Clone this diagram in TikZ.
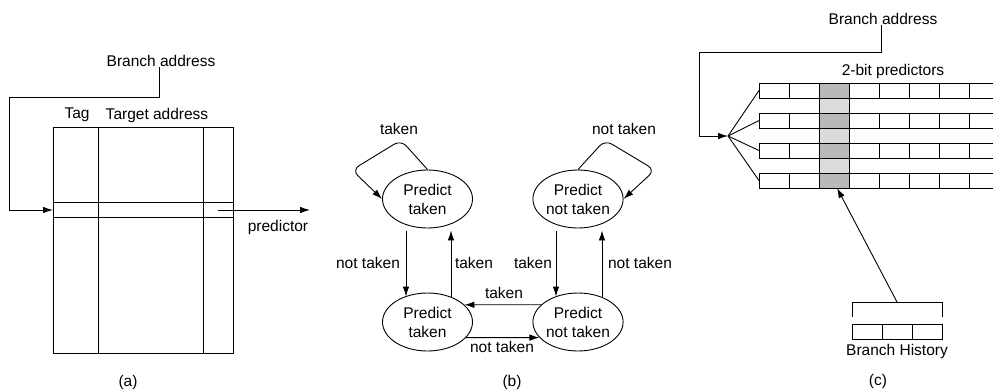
\documentclass[tikz,border=0pt]{standalone}
\usepackage{fontspec}
\setmainfont{Liberation Sans}
\usetikzlibrary{arrows.meta,shapes.geometric}
\begin{document}
\begin{tikzpicture}[x=1pt,y=-1pt, line width=0.9pt,
  arr/.style={-{Latex[length=10pt,width=6.5pt]}},
  lbl/.style={font=\fontsize{15.5}{18}\selectfont, inner sep=0pt},
  state/.style={draw, ellipse, minimum width=90pt, minimum height=58pt, inner sep=0pt,
    align=center, font=\fontsize{15.5}{19}\selectfont},
  light/.style={fill=gray!28},
  dark/.style={fill=gray!55}
]
\useasboundingbox (0,0) rectangle (993,391);

% ---------------- (a) ----------------
\node[lbl] (ba1) at (161,61) {Branch address};
\node[lbl] (tag) at (77,115) {Tag};
\node[lbl] (tgt) at (157,115) {Target address};
\draw (53,127) rectangle (233,353);
\draw (98,127) -- (98,353);
\draw (203,127) -- (203,353);
\draw (53,202) -- (233,202);
\draw (53,217) -- (233,217);
\coordinate (a1) at (159,97);
\coordinate (a2) at (9,97);
\coordinate (tin) at (53,210);
\draw[arr] (ba1.south -| a1) -- (a1) -- (a2) |- (tin);
\coordinate (pout) at (218,210);
\coordinate (pend) at (310,210);
\draw[arr] (pout) -- (pend);
\node[lbl] (pred) at (278,227) {predictor};
\node[lbl] (la) at (128,382) {(a)};

% ---------------- (b) ----------------
\node[state] (TL) at (427.5,199) {Predict\\taken};
\node[state] (TR) at (578,199) {Predict\\not taken};
\node[state] (BL) at (427.5,322) {Predict\\taken};
\node[state] (BR) at (578,322) {Predict\\not taken};

\coordinate (l1) at (401,140);
\coordinate (l2) at (352,170);
\draw[arr, rounded corners=8pt] (TL.north) -- (l1) -- (l2) -- (TL.west);
\coordinate (r1) at (605,140);
\coordinate (r2) at (655,170);
\draw[arr, rounded corners=8pt] (TR.north) -- (r1) -- (r2) -- (TR.east);
\node[lbl] (t1) at (399,129) {taken};
\node[lbl] (t2) at (624,129) {not taken};

\draw[arr] ([xshift=-21.5pt,yshift=-3pt]TL.south) -- ([xshift=-21.5pt,yshift=-4pt]BL.north);
\draw[arr] ([xshift=23.5pt,yshift=-4pt]BL.north) -- ([xshift=23.5pt,yshift=-2pt]TL.south);
\draw[arr] ([xshift=-22pt,yshift=-3pt]TR.south) -- ([xshift=-22pt,yshift=-4pt]BR.north);
\draw[arr] ([xshift=24pt,yshift=-4pt]BR.north) -- ([xshift=24pt,yshift=-2pt]TR.south);
\node[lbl] (t3) at (368,263) {not taken};
\node[lbl] (t4) at (474,263) {taken};
\node[lbl] (t5) at (533,263) {taken};
\node[lbl] (t6) at (640,263) {not taken};

\draw[arr] (BR.155) -- (BL.25);
\draw[arr] (BL.-22) -- (BR.202);
\node[lbl] (t7) at (504,293) {taken};
\node[lbl] (t8) at (502,347) {not taken};
\node[lbl] (lb) at (512,382) {(b)};

% ---------------- (c) ----------------
\node[lbl] (ba2) at (883,19) {Branch address};
\node[lbl] (bp) at (893,71) {2-bit predictors};

\fill[light] (819,83) rectangle (849,188);
\foreach \y in {83,113,143,173} {
  \fill[dark] (819,\y) rectangle (849,\y+15);
  \draw (993,\y) -- (759,\y) -- (759,\y+15) -- (993,\y+15);
  \foreach \x in {789,879,909,939,969} {
    \draw (\x,\y) -- (\x,\y+15);
  }
}
\draw (819,83) -- (819,188);
\draw (849,83) -- (849,188);

\coordinate (c1) at (881,52);
\coordinate (c2) at (699,52);
\coordinate (fan) at (728,136);
\draw[arr] (ba2.south -| c1) -- (c1) -- (c2) |- (fan);
\coordinate (row1) at (759,90.5);
\coordinate (row2) at (759,120.5);
\coordinate (row3) at (759,150.5);
\coordinate (row4) at (759,180.5);
\foreach \r in {row1,row2,row3,row4} {
  \draw (fan) -- (\r);
}

\draw (852,317) -- (852,302) -- (942,302) -- (942,317);
\draw (852,324) rectangle (942,339);
\draw (882,324) -- (882,339);
\draw (912,324) -- (912,339);
\coordinate (hb) at (897,302);
\coordinate (col) at (837,188);
\draw[arr] (hb) -- (col);
\node[lbl] (bh) at (897,351) {Branch History};
\node[lbl] (lc) at (878,381) {(c)};
\end{tikzpicture}
\end{document}
